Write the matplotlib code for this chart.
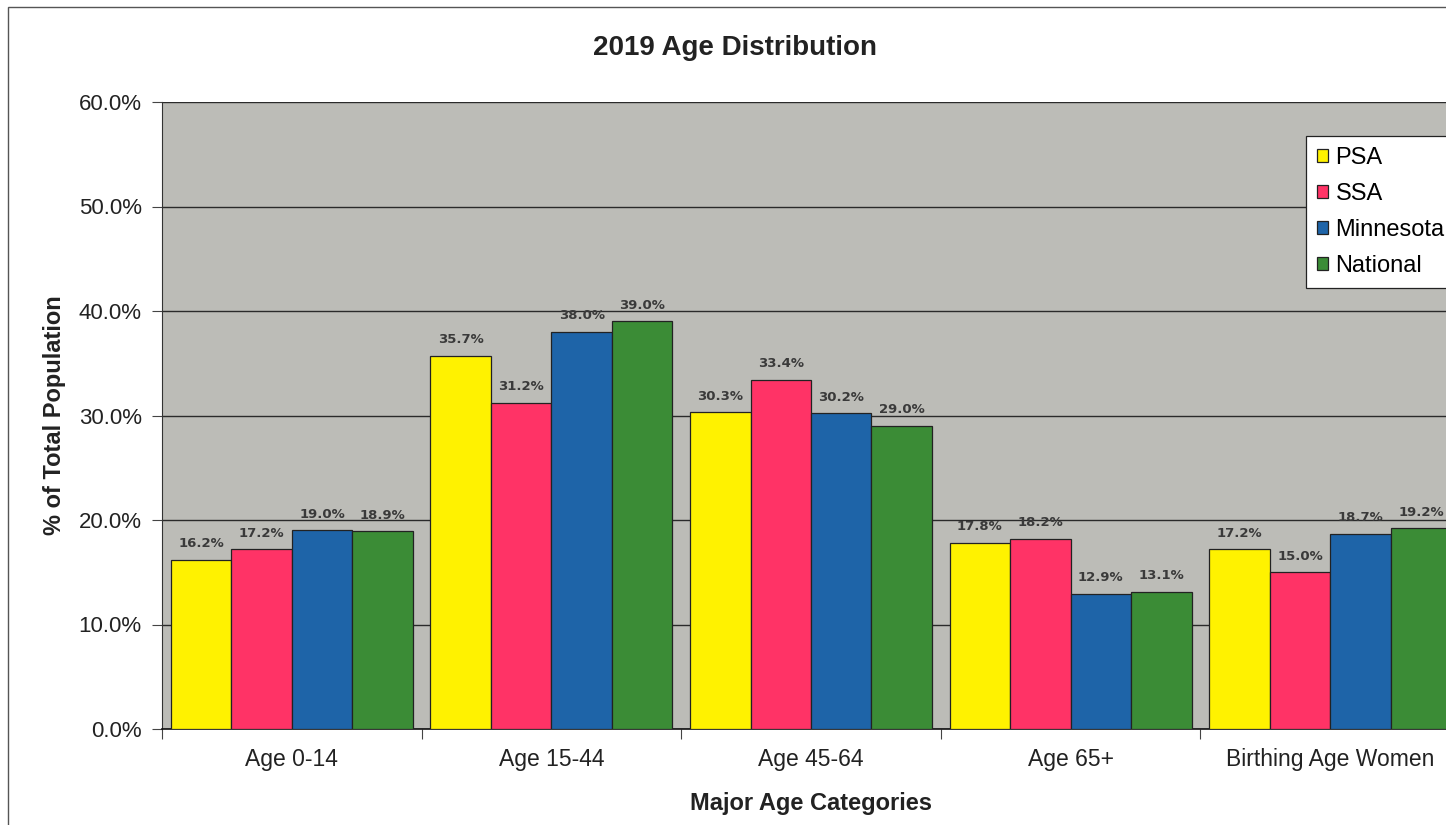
import numpy as np
import matplotlib.pyplot as plt
from matplotlib.patches import Rectangle

categories = ["Age 0-14", "Age 15-44", "Age 45-64", "Age 65+", "Birthing Age Women"]
series = ["PSA", "SSA", "Minnesota", "National"]
psa = [16.2, 35.7, 30.3, 17.8, 17.2]
ssa = [17.2, 31.2, 33.4, 18.2, 15.0]
minnesota = [19.0, 38.0, 30.2, 12.9, 18.7]
national = [18.9, 39.0, 29.0, 13.1, 19.2]
colors = ["#fff200", "#ff3366", "#1e64a8", "#3b8c36"]

plt.rcParams['font.family'] = ['Liberation Sans', 'DejaVu Sans']

W, H = 1446, 825
fig = plt.figure(figsize=(W / 100, H / 100), dpi=100)
fig.patch.set_facecolor('white')

# chart border (runs off the right and bottom edges)
fig.add_artist(Rectangle((8 / W, -0.1), 2, 1 - 7 / H + 0.1, transform=fig.transFigure,
                         fill=False, edgecolor='#555555', linewidth=1.0))

ax = fig.add_axes([162 / W, (H - 729) / H, 1298 / W, 627 / H])
ax.set_facecolor('#bcbcb7')

x = np.arange(len(categories))
bw = 0.233
offsets = (np.arange(4) - 1.5) * bw
for i, (name, vals) in enumerate(zip(series, [psa, ssa, minnesota, national])):
    bars = ax.bar(x + offsets[i], vals, bw, color=colors[i], edgecolor='#222222',
                  linewidth=0.9, label=name, zorder=3)
    for b, v in zip(bars, vals):
        ax.annotate(f"{v:.1f}%", (b.get_x() + b.get_width() / 2, v),
                    xytext=(0, 7), textcoords='offset points', ha='center', va='bottom',
                    fontsize=9.5, fontweight='bold', color='#3a3a3a',
                    family='DejaVu Sans', zorder=4)

ax.set_xlim(-0.5, len(categories) - 0.5)
ax.set_ylim(0, 60)
ax.set_yticks(np.arange(0, 61, 10))
ax.set_yticklabels([f"{t:.1f}%" for t in np.arange(0, 61, 10)], fontsize=16, color='#222222')
ax.yaxis.grid(True, color='#2a2a2a', linewidth=1.0, zorder=1)
ax.set_axisbelow(True)

# category labels centred, ticks on the boundaries
ax.set_xticks(np.arange(-0.5, len(categories)), minor=False)
ax.set_xticklabels([])
ax.set_xticks(x, minor=True)
ax.set_xticklabels(categories, minor=True, fontsize=16.5, color='#222222')
ax.tick_params(axis='x', which='minor', length=0, pad=14)
ax.tick_params(axis='x', which='major', length=7, color='#444444')
ax.tick_params(axis='y', length=7, color='#444444', pad=7.5)

for side in ['top', 'right']:
    ax.spines[side].set_visible(False)
ax.spines['left'].set_color('#333333')
ax.spines['bottom'].set_color('#111111')
ax.spines['bottom'].set_linewidth(1.2)

ax.set_xlabel("Major Age Categories", fontsize=17, fontweight='bold', color='#222222', labelpad=15)
ax.set_ylabel("% of Total Population", fontsize=17, fontweight='bold', color='#222222')
ax.yaxis.set_label_coords(-96 / 1298, 0.5)
fig.text(735 / W, 1 - 48 / H, "2019 Age Distribution", ha='center', va='center',
         fontsize=20, fontweight='bold', color='#222222')

leg = ax.legend(loc='upper left', bbox_to_anchor=(1306 / W, 1 - 136 / H),
                bbox_transform=fig.transFigure, fontsize=17, frameon=True, fancybox=False,
                handlelength=0.5, handleheight=0.5, handletextpad=0.3, labelspacing=0.6,
                borderpad=0.45, borderaxespad=0)
leg.get_frame().set_edgecolor('#222222')
leg.get_frame().set_linewidth(0.9)
leg.get_frame().set_alpha(1)

fig.savefig("out.png", dpi=100)
